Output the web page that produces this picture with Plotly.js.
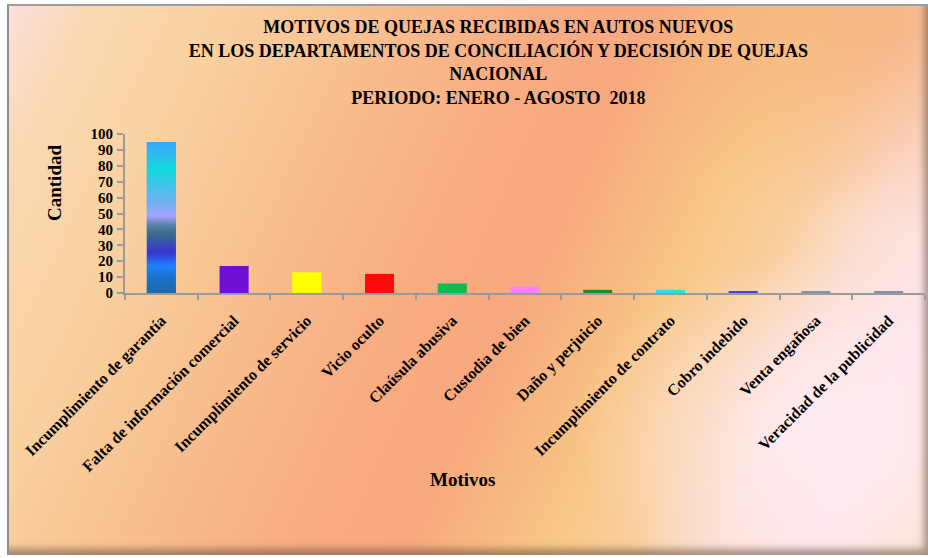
<!DOCTYPE html>
<html>
<head>
<meta charset="utf-8">
<script src="https://cdn.plot.ly/plotly-3.0.1.min.js"></script>
<style>
  html, body { margin:0; padding:0; background:#ffffff; }
  #wrap { position:relative; width:928px; height:558px; overflow:hidden; }
  #bg {
    position:absolute; left:7px; top:4px; width:921px; height:551px; box-sizing:border-box;
    border-left:2px solid #8e8e8e; border-top:2px solid #9c9c9c;
    background:
      radial-gradient(ellipse 260px 200px at 96% 4%, rgba(247,172,122,0.7) 0%, rgba(247,172,122,0) 100%),
      radial-gradient(ellipse 240px 180px at 88% 78%, rgba(255,236,244,0.9) 0%, rgba(255,232,238,0) 100%),
      linear-gradient(115deg, #fce0dc 0%, #fad8b2 7%, #f9d2a0 18%, #f8be8e 32%, #f8ac82 45%, #f7a87e 55%, #f8bc82 63%, #f8c888 68%, #f9d0a0 75%, #fcdfd4 82%, #fde5ea 90%, #f9e3cc 100%);
    box-shadow: inset -7px -9px 7px -3px rgba(100,78,64,0.55);
  }
  #chart { position:absolute; left:0; top:0; width:928px; height:558px; }
</style>
</head>
<body>
<div id="wrap">
  <div id="bg"></div>
  <div id="chart"></div>
</div>
<script>
// ---- data ----
const CATEGORIES = [
  "Incumplimiento de garantía",
  "Falta de información comercial",
  "Incumplimiento de servicio",
  "Vicio oculto",
  "Claúsula abusiva",
  "Custodia de bien",
  "Daño y perjuicio",
  "Incumplimiento de contrato",
  "Cobro indebido",
  "Venta engañosa",
  "Veracidad de la publicidad"
];
const VALUES = [95, 17, 13, 12, 6, 4, 2, 2, 1, 1, 1];
const BAR_COLORS = ["#3aa0e8", "#6f10d8", "#ffff00", "#ff0a0a", "#0fba52", "#ff80ff", "#228b22", "#1ee6e6", "#4444e0", "#8092b4", "#8092b4"];
const GRADIENT_STOPS = [
  [0.00, "#1a6aa8"], [0.10, "#1a72c8"], [0.18, "#1e80ff"], [0.27, "#3434cc"],
  [0.32, "#3a4cb8"], [0.39, "#3a6a8c"], [0.45, "#5a82aa"], [0.51, "#a4a2ff"],
  [0.60, "#70b2f0"], [0.71, "#44c2e8"], [0.82, "#10dada"], [0.92, "#30baf0"], [1.00, "#32a8f8"]
];
const TITLE_LINES = [
  "MOTIVOS DE QUEJAS RECIBIDAS EN AUTOS NUEVOS",
  "EN LOS DEPARTAMENTOS DE CONCILIACIÓN Y DECISIÓN DE QUEJAS",
  "NACIONAL",
  "PERIODO: ENERO - AGOSTO  2018"
];
const Y_TITLE = "Cantidad";
const X_TITLE = "Motivos";

// ---- chart ----
const FONT = "'Times New Roman', 'Liberation Serif', serif";
const BARGAP = 0.6;
const half = (1 - BARGAP) / 2;
const PLOT_L = 125, PLOT_R = 3, PLOT_T = 134, PLOT_B = 265;
const PW = 928 - PLOT_L - PLOT_R, PH = 558 - PLOT_T - PLOT_B;

const bars = {
  type: "bar",
  x: CATEGORIES,
  y: VALUES,
  marker: { color: BAR_COLORS, line: { width: 0 } },
  hoverinfo: "x+y",
  showlegend: false
};

// gradient fill for the first (largest) bar, built from its value
const i0 = 0;
const gradBar = {
  type: "scatter",
  xaxis: "x2",
  x: [i0 - half, i0 + half, i0 + half, i0 - half, i0 - half],
  y: [0, 0, VALUES[i0], VALUES[i0], 0],
  mode: "lines",
  fill: "toself",
  fillgradient: { type: "vertical", colorscale: GRADIENT_STOPS, start: 0, stop: VALUES[i0] },
  line: { width: 0, color: "rgba(0,0,0,0)" },
  hoverinfo: "skip",
  showlegend: false
};

const layout = {
  width: 928,
  height: 558,
  paper_bgcolor: "rgba(0,0,0,0)",
  plot_bgcolor: "rgba(0,0,0,0)",
  margin: { l: PLOT_L, r: PLOT_R, t: PLOT_T, b: PLOT_B },
  bargap: BARGAP,
  font: { family: FONT, color: "#000" },
  title: {
    text: TITLE_LINES.join("<br>"),
    font: { family: FONT, size: 18, weight: "bold", color: "#000" },
    x: 0.537, xanchor: "center",
    y: 0.94, yanchor: "top", yref: "container"
  },
  xaxis: {
    type: "category",
    range: [-0.5, CATEGORIES.length - 0.5],
    tickson: "boundaries",
    ticks: "outside", ticklen: 5, tickwidth: 2, tickcolor: "#9a9a9a",
    showline: true, linecolor: "#9a9a9a", linewidth: 2,
    showgrid: false, zeroline: false,
    tickangle: -45,
    ticklabelstandoff: 10,
    tickfont: { family: FONT, size: 16, weight: "bold", color: "#000" },
    fixedrange: true
  },
  xaxis2: {
    overlaying: "x",
    range: [-0.5, CATEGORIES.length - 0.5],
    visible: false,
    fixedrange: true
  },
  yaxis: {
    range: [0, 100],
    dtick: 10,
    ticks: "outside", ticklen: 6, tickwidth: 2, tickcolor: "#9a9a9a",
    showline: true, linecolor: "#9a9a9a", linewidth: 2,
    showgrid: false, zeroline: false,
    tickfont: { family: FONT, size: 15, weight: "bold", color: "#000" },
    ticklabelstandoff: 1,
    fixedrange: true
  },
  annotations: [
    {
      text: Y_TITLE, xref: "paper", yref: "paper",
      x: (54 - PLOT_L) / PW, y: (293 - 183) / PH,
      xanchor: "center", yanchor: "middle", textangle: -90, showarrow: false,
      font: { family: FONT, size: 19, weight: "bold", color: "#000" }
    },
    {
      text: X_TITLE, xref: "paper", yref: "paper",
      x: (462 - PLOT_L) / PW, y: (293 - 479) / PH,
      xanchor: "center", yanchor: "middle", showarrow: false,
      font: { family: FONT, size: 19, weight: "bold", color: "#000" }
    }
  ]
};

Plotly.newPlot("chart", [bars, gradBar], layout, { displayModeBar: false });
</script>
</body>
</html>
